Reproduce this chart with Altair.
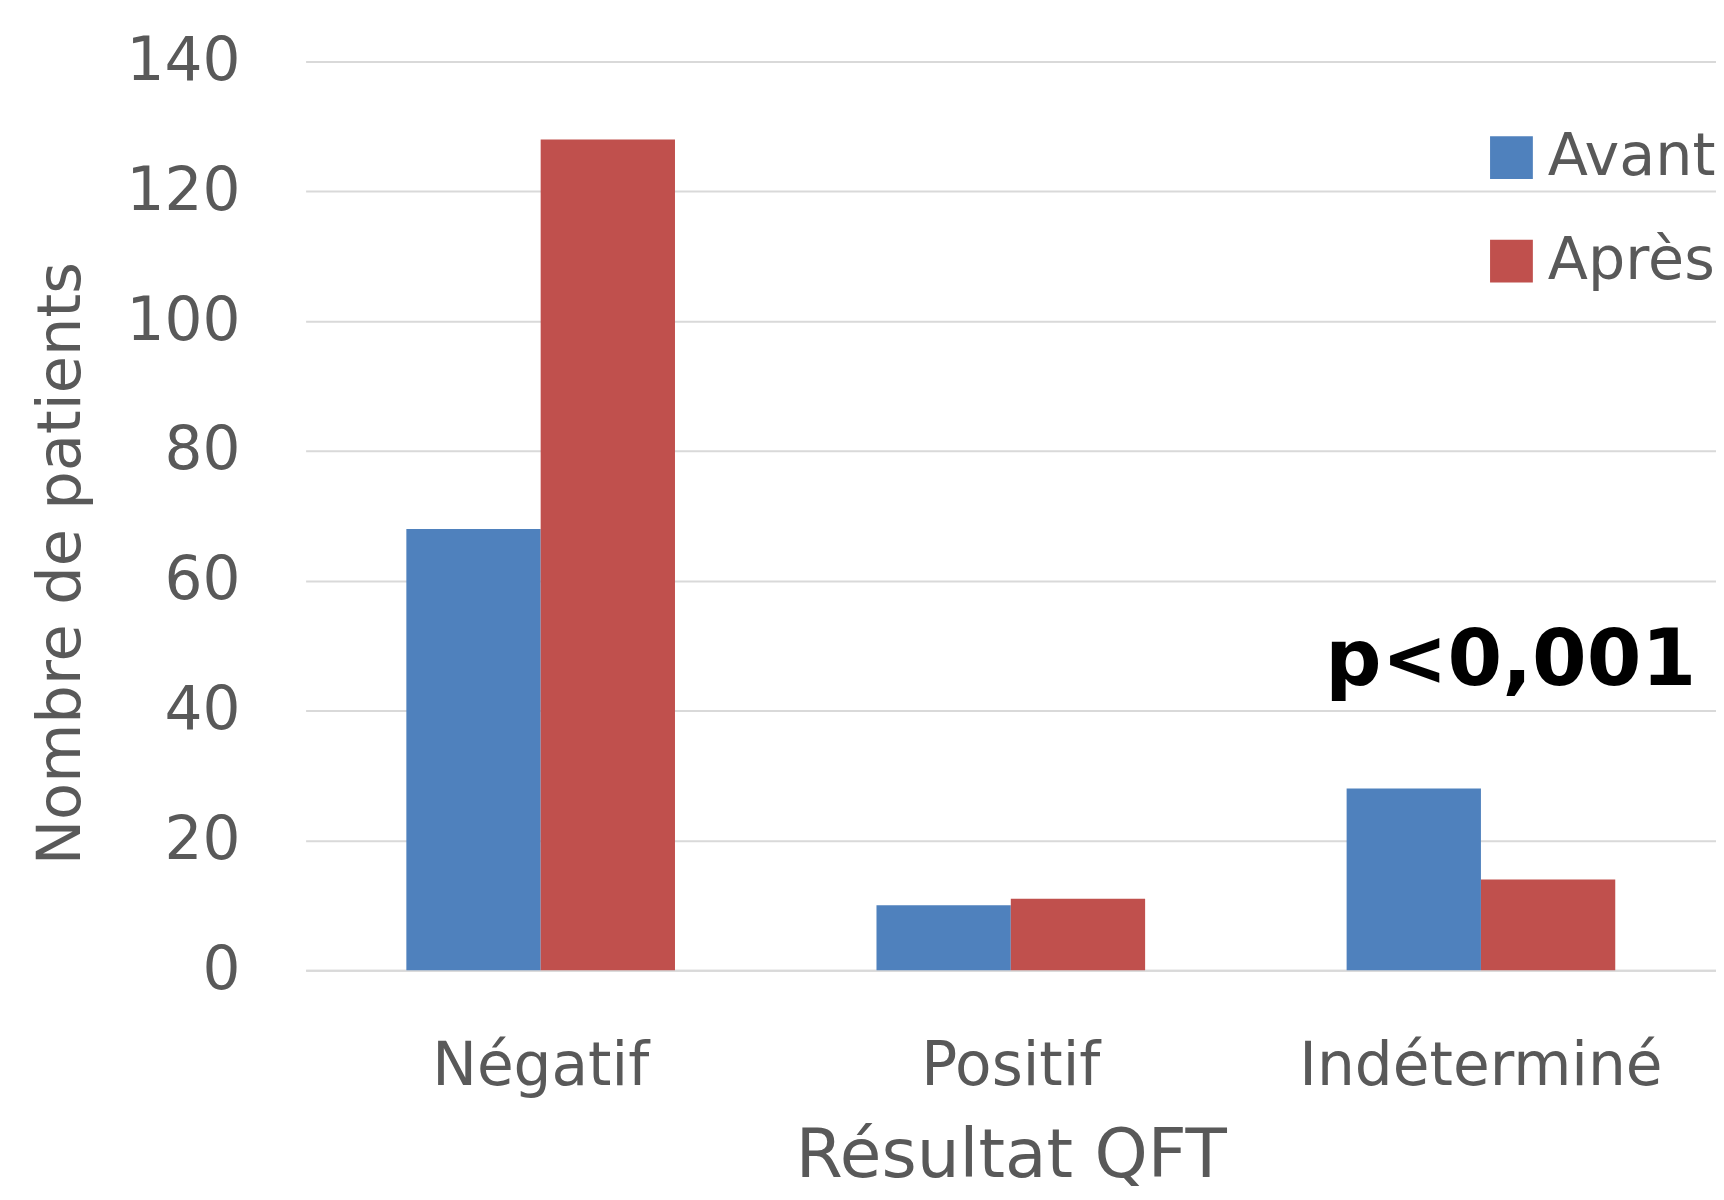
import altair as alt
import pandas as pd

categories = ["Négatif", "Positif", "Indéterminé"]
series = ["Avant", "Après"]
avant = [68, 10, 28]
apres = [128, 11, 14]
y_ticks = [0, 20, 40, 60, 80, 100, 120, 140]
colors = ["#4F81BD", "#C0504D"]
p_label = "p<0,001"
p_category = "Indéterminé"
p_value = 43.9

rows = []
for c, a, b in zip(categories, avant, apres):
    rows.append({"resultat": c, "periode": "Avant", "nombre": a})
    rows.append({"resultat": c, "periode": "Après", "nombre": b})
df = pd.DataFrame(rows)

FONT = "DejaVu Sans"
GREY = "#595959"

x_enc = alt.X(
    "resultat:N",
    sort=categories,
    scale=alt.Scale(paddingInner=0.4286, paddingOuter=0.2143),
    axis=alt.Axis(
        title="Résultat QFT", labelAngle=0, labelFontSize=60, labelFont=FONT,
        labelColor=GREY, labelPadding=68, labelLimit=1000, ticks=False,
        domainColor="#D9D9D9", domainWidth=2, titleFontSize=68, titleFont=FONT,
        titleColor=GREY, titleFontWeight="normal", titlePadding=26, grid=False,
    ),
)

bars = alt.Chart(df).mark_bar().encode(
    x=x_enc,
    xOffset=alt.XOffset("periode:N", sort=series, scale=alt.Scale(paddingInner=0, paddingOuter=0)),
    y=alt.Y(
        "nombre:Q",
        scale=alt.Scale(domain=[0, 140], nice=False),
        axis=alt.Axis(
            values=y_ticks, title="Nombre de patients", labelFontSize=60,
            labelFont=FONT, labelColor=GREY, labelPadding=66, ticks=False,
            domain=False, grid=True, gridColor="#D9D9D9", gridWidth=2,
            titleFontSize=61, titleFont=FONT, titleColor=GREY,
            titleFontWeight="normal", titlePadding=34, titleY=504,
        ),
    ),
    color=alt.Color(
        "periode:N",
        sort=series,
        scale=alt.Scale(domain=series, range=colors),
        legend=alt.Legend(
            orient="none", legendX=1182, legendY=67, title=None,
            symbolType="square", symbolSize=1849, symbolStrokeWidth=0,
            labelFontSize=59, labelFont=FONT, labelColor=GREY, labelOffset=7,
            rowPadding=44, labelLimit=400, padding=0,
        ),
    ),
)

ann_df = pd.DataFrame({"resultat": [p_category], "nombre": [p_value], "label": [p_label]})
ann = alt.Chart(ann_df).mark_text(
    font=FONT, fontWeight="bold", fontSize=79, color="black",
    align="center", baseline="alphabetic", dx=30,
).encode(
    x=alt.X("resultat:N", sort=categories),
    y=alt.Y("nombre:Q"),
    text="label:N",
)

chart = alt.layer(bars, ann).properties(
    width=1417,
    height=913,
    autosize=alt.AutoSizeParams(type="none"),
    padding={"left": 299, "top": 51, "right": 0, "bottom": 220},
    background="white",
).configure_view(stroke=None)

chart.save("out.html", embed_options={"renderer": "svg", "actions": False})
